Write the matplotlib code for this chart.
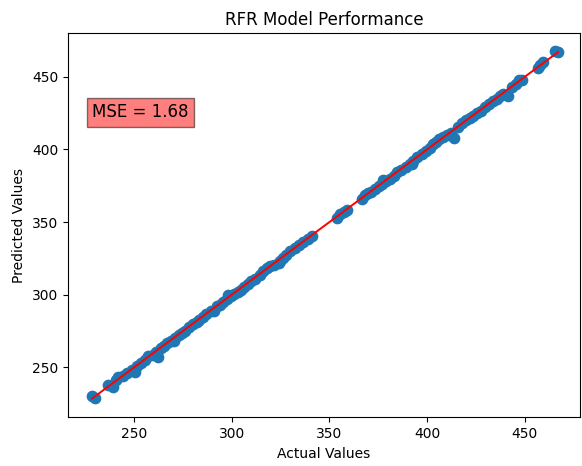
import numpy as np
import matplotlib.pyplot as plt

# values
actual = [228.5, 230.0, 236.5, 239.0, 241.0, 242.0, 244.5, 246.5, 249.0, 250.5,
          251.5, 253.5, 255.5, 257.0, 259.5, 261.0, 262.5, 264.0, 265.5, 267.0,
          269.0, 271.0, 273.0, 274.5, 276.0, 278.0, 280.0, 282.0, 283.5, 285.5,
          287.0, 289.5, 291.0, 292.5, 294.0, 295.5, 297.5, 299.5, 301.0, 303.0,
          304.5, 306.5, 308.5, 310.0, 312.0, 314.5, 316.0, 318.0, 319.5, 321.5,
          324.5, 326.0, 328.0, 330.0, 332.5, 334.5, 336.5, 339.0, 341.0, 354.0,
          355.5, 357.5, 359.0, 366.5, 368.0, 369.5, 371.5, 373.5, 375.5, 377.0,
          379.0, 381.0, 383.0, 384.5, 386.5, 389.0, 391.0, 393.0, 395.0, 397.5,
          399.5, 401.5, 403.0, 404.5, 406.0, 408.0, 410.0, 412.0, 414.0, 416.0,
          418.0, 420.0, 422.0, 423.5, 425.5, 427.5, 429.5, 431.5, 433.5, 435.5,
          437.5, 439.0, 441.5, 443.5, 445.5, 447.0, 448.5, 456.5, 458.0, 459.5,
          465.5, 467.0, 270.5, 298.0, 324.0, 377.5, 392.0]
predicted = [230.5, 229.0, 238.0, 236.5, 241.5, 243.5, 244.0, 246.0, 248.0, 246.5,
             251.0, 253.0, 255.0, 257.5, 258.5, 260.5, 257.0, 263.5, 265.0, 266.5,
             268.0, 270.0, 272.5, 273.5, 275.0, 277.5, 279.5, 281.5, 282.5, 284.5,
             286.5, 288.5, 289.0, 292.0, 293.0, 295.0, 297.0, 299.0, 300.5, 302.0,
             303.5, 305.5, 307.5, 309.5, 311.0, 313.5, 316.5, 318.5, 320.0, 320.5,
             323.5, 325.5, 327.5, 330.0, 332.0, 334.0, 336.0, 338.5, 340.5, 353.0,
             355.5, 357.0, 358.5, 366.0, 368.5, 370.0, 371.0, 373.0, 375.0, 376.5,
             378.0, 379.5, 382.0, 384.5, 386.0, 388.0, 390.0, 392.0, 394.5, 396.5,
             399.0, 401.0, 403.5, 405.0, 407.0, 408.5, 410.0, 411.5, 408.0, 415.5,
             418.0, 420.0, 421.5, 423.0, 425.0, 426.5, 429.0, 431.0, 433.0, 434.5,
             437.0, 438.0, 436.5, 443.0, 445.0, 448.0, 447.5, 456.0, 458.0, 460.5,
             467.5, 467.0, 268.0, 299.5, 321.5, 379.0, 390.0]
mse_text = 'MSE = 1.68'

fig = plt.figure(figsize=(5.82, 4.66), dpi=100)
ax = fig.add_axes([0.1168, 0.1045, 0.88, 0.824])

ax.scatter(actual, predicted, s=55, color='#1f77b4')
lo, hi = min(actual), max(actual)
ax.plot([lo, hi], [lo, hi], color='red', linewidth=1.4)

ax.set_xlim(216.2, 478.3)
ax.set_ylim(215.6, 479.9)
ax.set_xticks([250, 300, 350, 400, 450])
ax.set_yticks([250, 300, 350, 400, 450])

ax.text(228.5, 422, mse_text, fontsize=12,
        bbox=dict(facecolor='red', alpha=0.5))

ax.set_title('RFR Model Performance')
ax.set_xlabel('Actual Values')
ax.set_ylabel('Predicted Values')

fig.savefig('out.png', dpi=100)
